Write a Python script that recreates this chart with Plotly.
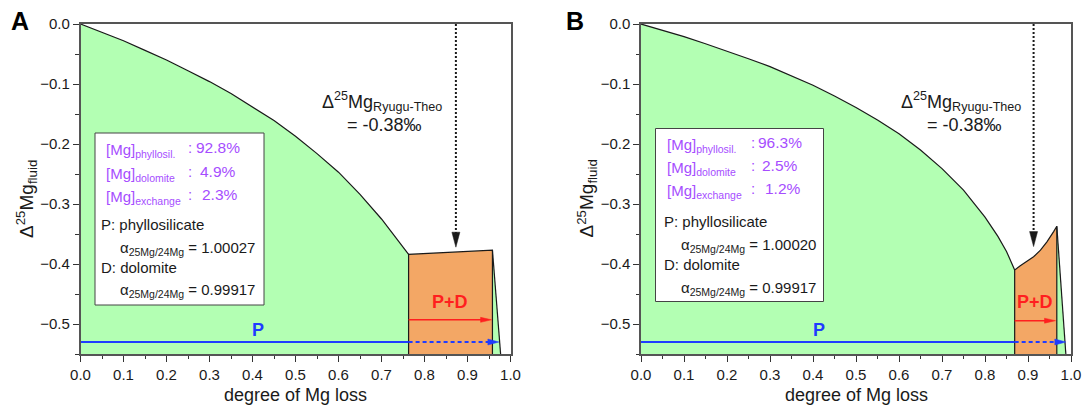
import plotly.graph_objects as go

FONT = "Liberation Sans, Arial, sans-serif"
GREEN = "#b3ffb3"
ORANGE = "#f3a765"
PURPLE = "#a64dff"
BLUE = "#1f3cff"
RED = "#ff1f1f"
INK = "#1a1a1a"

# ---------------- data ----------------
# Panel A
a_curve_x = [0, 0.05, 0.1, 0.15, 0.2, 0.25, 0.3, 0.35, 0.4, 0.45, 0.5, 0.55, 0.6, 0.65, 0.7, 0.73, 0.763]
a_curve_y = [0, -0.014, -0.028, -0.044, -0.060, -0.078, -0.096, -0.116, -0.138, -0.161, -0.187, -0.216,
             -0.247, -0.284, -0.325, -0.353, -0.384]
a_top_x = [0.763, 0.82, 0.88, 0.958]
a_top_y = [-0.384, -0.382, -0.380, -0.377]
a_sliver_end = 0.977
a_theo_x, a_theo_tip = 0.873, -0.372
a_red_x = [0.763, 0.956]
a_red_y = -0.493
a_blue_x = [0, 0.763, 0.973]
a_blue_y = -0.53
a_pct = ["92.8%", "4.9%", "2.3%"]
a_alpha_p = "1.00027"
a_alpha_d = "0.99917"

# Panel B
b_curve_x = [0, 0.05, 0.1, 0.15, 0.2, 0.25, 0.3, 0.35, 0.4, 0.45, 0.5, 0.55, 0.6, 0.65, 0.7, 0.75, 0.8, 0.83, 0.85, 0.869]
b_curve_y = [0, -0.010, -0.021, -0.033, -0.045, -0.058, -0.071, -0.086, -0.102, -0.120, -0.139, -0.160,
             -0.183, -0.210, -0.241, -0.277, -0.322, -0.354, -0.379, -0.410]
b_top_x = [0.869, 0.882, 0.898, 0.913, 0.929, 0.944, 0.9596, 0.967]
b_top_y = [-0.410, -0.403, -0.396, -0.388, -0.377, -0.363, -0.346, -0.337]
b_sliver_end = 0.988
b_theo_x, b_theo_tip = 0.913, -0.371
b_red_x = [0.869, 0.964]
b_red_y = -0.4945
b_blue_x = [0, 0.869, 0.988]
b_blue_y = -0.53
b_pct = ["96.3%", "2.5%", "1.2%"]
b_alpha_p = "1.00020"
b_alpha_d = "0.99917"

x_ticks = [0, 0.1, 0.2, 0.3, 0.4, 0.5, 0.6, 0.7, 0.8, 0.9, 1.0]
y_ticks = [0, -0.1, -0.2, -0.3, -0.4, -0.5]
Y_MIN = -0.55

# ---------------- layout geometry (pixels) ----------------
W, H = 1088, 410
TOP, BOT = 24, 354
PW = 430.0
PH = BOT - TOP
X0 = {"A": 80.5, "B": 641.0}
UX = 1.0 / PW            # data per px (x)
UY = 0.55 / PH           # data per px (y)


def dx(panel, px):
    return (px - X0[panel]) / PW


def dy(py):
    return -(py - TOP) * UY


fig = go.Figure()
annotations = []
shapes = []


def head(xr, yr, tx, ty, direction, L, Wd, color):
    if direction == "right":
        xs = [tx, tx - L * UX, tx - L * UX, tx]
        ys = [ty, ty + Wd / 2 * UY, ty - Wd / 2 * UY, ty]
    else:
        xs = [tx, tx - Wd / 2 * UX, tx + Wd / 2 * UX, tx]
        ys = [ty, ty + L * UY, ty + L * UY, ty]
    fig.add_trace(go.Scatter(x=xs, y=ys, xaxis=xr, yaxis=yr, mode="lines", fill="toself",
                             fillcolor=color, line=dict(color=color, width=0.5),
                             hoverinfo="skip", showlegend=False))


def panel(p, xr, yr, cx, cy, tx, ty, sliver, theo_x, theo_tip, red_x, red_y, blue_x, blue_y,
          pct, alpha_p, alpha_d, box, lines_py, txt_px, ann_px):
    # green area
    gx = cx + tx[1:] + [sliver, 0]
    gy = cy + ty[1:] + [Y_MIN, Y_MIN]
    fig.add_trace(go.Scatter(x=gx, y=gy, xaxis=xr, yaxis=yr, mode="lines", fill="toself",
                             fillcolor=GREEN, line=dict(width=0), hoverinfo="skip", showlegend=False))
    # orange area
    ox = [tx[0]] + tx + [tx[-1]]
    oy = [Y_MIN] + ty + [Y_MIN]
    fig.add_trace(go.Scatter(x=ox, y=oy, xaxis=xr, yaxis=yr, mode="lines", fill="toself",
                             fillcolor=ORANGE, line=dict(color=INK, width=1.2),
                             hoverinfo="skip", showlegend=False))
    # curve + sliver edge
    fig.add_trace(go.Scatter(x=cx, y=cy, xaxis=xr, yaxis=yr, mode="lines",
                             line=dict(color=INK, width=1.2), hoverinfo="skip", showlegend=False))
    fig.add_trace(go.Scatter(x=[tx[-1], sliver], y=[ty[-1], Y_MIN], xaxis=xr, yaxis=yr, mode="lines",
                             line=dict(color=INK, width=1.2), hoverinfo="skip", showlegend=False))
    # blue P arrow
    fig.add_trace(go.Scatter(x=blue_x[:2], y=[blue_y, blue_y], xaxis=xr, yaxis=yr, mode="lines",
                             line=dict(color=BLUE, width=2), hoverinfo="skip", showlegend=False))
    fig.add_trace(go.Scatter(x=[blue_x[1], blue_x[2] - 8 * UX], y=[blue_y, blue_y], xaxis=xr, yaxis=yr,
                             mode="lines", line=dict(color=BLUE, width=2, dash="4px,3px"),
                             hoverinfo="skip", showlegend=False))
    head(xr, yr, blue_x[2], blue_y, "right", 11, 6, BLUE)
    # red P+D arrow
    fig.add_trace(go.Scatter(x=[red_x[0], red_x[1] - 8 * UX], y=[red_y, red_y], xaxis=xr, yaxis=yr,
                             mode="lines", line=dict(color=RED, width=1.5),
                             hoverinfo="skip", showlegend=False))
    head(xr, yr, red_x[1], red_y, "right", 11, 5, RED)
    # black dotted arrow
    fig.add_trace(go.Scatter(x=[theo_x, theo_x], y=[0, theo_tip + 12 * UY], xaxis=xr, yaxis=yr,
                             mode="lines", line=dict(color=INK, width=2, dash="2px,2px"),
                             hoverinfo="skip", showlegend=False))
    head(xr, yr, theo_x, theo_tip, "down", 15, 8, INK)

    # labels in plot
    annotations.append(dict(xref=xr, yref=yr, x=(red_x[0] + red_x[1]) / 2, y=dy(301.5), text="<b>P+D</b>",
                            showarrow=False, font=dict(size=18, color=RED, family=FONT)))
    annotations.append(dict(xref=xr, yref=yr, x=0.413, y=dy(330), text="<b>P</b>",
                            showarrow=False, font=dict(size=18, color=BLUE, family=FONT)))
    annotations.append(dict(xref=xr, yref=yr, x=dx(p, ann_px[0]), y=dy(101),
                            text="Δ<sup>25</sup>Mg<sub>Ryugu-Theo</sub>", showarrow=False,
                            font=dict(size=18, color=INK, family=FONT)))
    annotations.append(dict(xref=xr, yref=yr, x=dx(p, ann_px[1]), y=dy(125),
                            text="= -0.38‰", showarrow=False,
                            font=dict(size=18, color=INK, family=FONT)))

    # text box
    shapes.append(dict(type="rect", xref=xr, yref=yr, x0=dx(p, box[0]), x1=dx(p, box[1]),
                       y0=dy(box[2]), y1=dy(box[3]), fillcolor="white",
                       line=dict(color="#444444", width=1)))
    names = ["phyllosil.", "dolomite", "exchange"]
    for i, nm in enumerate(names):
        annotations.append(dict(xref=xr, yref=yr, x=dx(p, txt_px[0]), y=dy(lines_py[i]),
                                xanchor="left", yanchor="middle", showarrow=False,
                                text="[Mg]<sub>%s</sub>" % nm,
                                font=dict(size=15, color=PURPLE, family=FONT)))
        annotations.append(dict(xref=xr, yref=yr, x=dx(p, txt_px[3]), y=dy(lines_py[i] - 3),
                                xanchor="left", yanchor="middle", showarrow=False, text=":",
                                font=dict(size=15, color=PURPLE, family=FONT)))
        annotations.append(dict(xref=xr, yref=yr, x=dx(p, txt_px[4 + i]), y=dy(lines_py[i] - 3),
                                xanchor="left", yanchor="middle", showarrow=False, text=pct[i],
                                font=dict(size=15.5, color=PURPLE, family=FONT)))
    blk = [("P: phyllosilicate", txt_px[1], lines_py[3], 0),
           ("α<sub>25Mg/24Mg</sub> = %s" % alpha_p, txt_px[2], lines_py[4], 3),
           ("D: dolomite", txt_px[1], lines_py[5], 0),
           ("α<sub>25Mg/24Mg</sub> = %s" % alpha_d, txt_px[2], lines_py[6], 3)]
    for t, xp, yp, off in blk:
        annotations.append(dict(xref=xr, yref=yr, x=dx(p, xp), y=dy(yp + off),
                                xanchor="left", yanchor="middle", showarrow=False, text=t,
                                font=dict(size=15, color=INK, family=FONT)))


panel("A", "x", "y", a_curve_x, a_curve_y, a_top_x, a_top_y, a_sliver_end, a_theo_x, a_theo_tip,
      a_red_x, a_red_y, a_blue_x, a_blue_y, a_pct, a_alpha_p, a_alpha_d,
      box=(95, 264, 305, 133), lines_py=[150, 174, 197, 224, 245, 267, 287],
      txt_px=[104, 99, 118, 186, 194, 198, 200], ann_px=[382, 384])
panel("B", "x2", "y2", b_curve_x, b_curve_y, b_top_x, b_top_y, b_sliver_end, b_theo_x, b_theo_tip,
      b_red_x, b_red_y, b_blue_x, b_blue_y, b_pct, b_alpha_p, b_alpha_d,
      box=(655.5, 823.5, 301.5, 128.5), lines_py=[145, 168.5, 191.5, 221.5, 242.5, 264, 285.4],
      txt_px=[665, 661.5, 678.5, 749, 756, 760, 762.5], ann_px=[961, 964])

# panel letters and axis titles
for letter, px in (("A", 20), ("B", 575)):
    annotations.append(dict(xref="paper", yref="paper", x=px / W, y=(BOT - 21) / PH, text="<b>%s</b>" % letter,
                            xanchor="center", yanchor="middle",
                            showarrow=False, font=dict(size=25, color="black", family=FONT)))
for p, px in (("A", 26), ("B", 586.5)):
    annotations.append(dict(xref="paper", yref="paper", x=px / W, y=(BOT - 199) / PH,
                            xanchor="center", yanchor="middle",
                            text="Δ<sup>25</sup>Mg<sub>fluid</sub>", textangle=-90, showarrow=False,
                            font=dict(size=19, color=INK, family=FONT)))
    annotations.append(dict(xref="paper", yref="paper", x=(X0[p] + PW / 2) / W, y=(BOT - 394.5) / PH,
                            xanchor="center", yanchor="middle",
                            text="degree of Mg loss", showarrow=False,
                            font=dict(size=18, color=INK, family=FONT)))

axis_common = dict(showline=True, linecolor="#555555", linewidth=1.5, mirror=True, ticks="outside",
                   tickcolor="#333333", tickwidth=1.2, showgrid=False, zeroline=False, automargin=False,
                   tickfont=dict(size=15, color=INK, family=FONT), tickformat=".1f")
xa = dict(axis_common, range=[0, 1], tickvals=x_ticks, ticklen=6,
          minor=dict(dtick=0.05, tick0=0, ticks="outside", ticklen=3.5, tickcolor="#333333", tickwidth=1.2))
ya = dict(axis_common, range=[Y_MIN, 0], tickvals=y_ticks, ticklen=6,
          minor=dict(dtick=0.05, tick0=0, ticks="outside", ticklen=3.5, tickcolor="#333333", tickwidth=1.2))

fig.update_layout(
    width=W, height=H, margin=dict(l=0, r=0, t=TOP, b=H - BOT, autoexpand=False),
    paper_bgcolor="white", plot_bgcolor="white", showlegend=False,
    xaxis=dict(xa, domain=[X0["A"] / W, (X0["A"] + PW) / W], anchor="y"),
    yaxis=dict(ya, domain=[0, 1], anchor="x"),
    xaxis2=dict(xa, domain=[X0["B"] / W, (X0["B"] + PW) / W], anchor="y2"),
    yaxis2=dict(ya, domain=[0, 1], anchor="x2"),
    annotations=annotations, shapes=shapes,
    font=dict(family=FONT, color=INK),
)

fig.write_html("out.html")
